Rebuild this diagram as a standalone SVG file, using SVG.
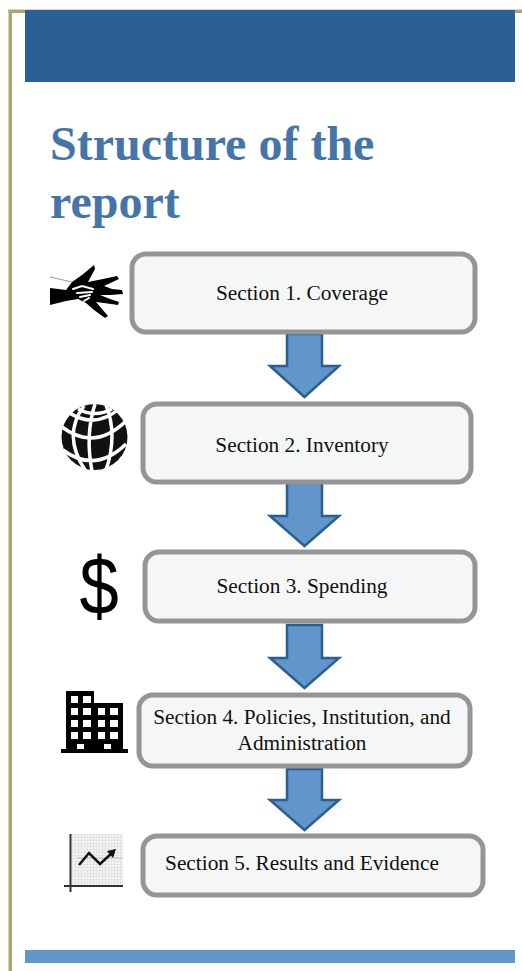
<svg xmlns="http://www.w3.org/2000/svg" width="522" height="971" viewBox="0 0 522 971">
<style>
.box{fill:#f5f7f7;stroke:#959595;stroke-width:5}
.lbl{font:21.3px "Liberation Serif",serif;fill:#111;text-anchor:middle}
.arr{fill:#6195cc;stroke:#2b5f90;stroke-width:2.5}
</style>
<defs>
<pattern id="grid" width="3" height="3" patternUnits="userSpaceOnUse"><rect width="3" height="3" fill="#f3f4f4"/><path d="M0 0H3M0 0V3" stroke="#d5d8d8" stroke-width="1"/></pattern>
</defs>
<rect width="522" height="971" fill="#fff"/>
<rect x="8" y="9" width="514" height="1" fill="#d9d6c8"/>
<rect x="8.500" y="10" width="3.500" height="961" fill="#b0a46e"/>
<rect x="8.500" y="10" width="17" height="3" fill="#b0a46e"/>
<rect x="515" y="10" width="7" height="3" fill="#b0a46e"/>
<rect x="25" y="10" width="490" height="72" fill="#2a6095"/>
<rect x="25" y="950" width="490" height="13" fill="#6195cc"/>
<g id="title" font-family="Liberation Serif,serif" font-weight="bold" font-size="48" fill="#4575a8">
<text x="50" y="160">Structure of the</text>
<text x="50" y="218">report</text>
</g>
<g id="connectors">
<path class="arr" d="M287 334H322V366H339L304.500 397L270 366H287Z"/>
<path class="arr" d="M287 483H322V516H339L304.500 546L270 516H287Z"/>
<path class="arr" d="M287 625H322V658H339L304.500 688L270 658H287Z"/>
<path class="arr" d="M287 769H322V800H339L304.500 830L270 800H287Z"/>
</g>
<g id="node1"><rect class="box" x="132" y="254" width="343" height="78" rx="14"/><text class="lbl" x="302" y="300">Section 1. Coverage</text></g>
<g id="node2"><rect class="box" x="143" y="404" width="328" height="78" rx="14"/><text class="lbl" x="302" y="452">Section 2. Inventory</text></g>
<g id="node3"><rect class="box" x="145" y="552" width="330" height="69" rx="14"/><text class="lbl" x="302" y="593">Section 3. Spending</text></g>
<g id="node4"><rect class="box" x="139" y="695" width="331" height="71" rx="14"/><text class="lbl" x="302" y="724">Section 4. Policies, Institution, and</text><text class="lbl" x="302" y="750">Administration</text></g>
<g id="node5"><rect class="box" x="143" y="836" width="340" height="59" rx="14"/><text class="lbl" x="302" y="870">Section 5. Results and Evidence</text></g>
<g id="icon-hands">
<path d="M50 288L66 290L72 282L82 275L94 265L95 269L88 282L103 279L117 276L119 279L104 286L112 289L122 290L123 294L110 295L100 295L110 299L119 302L118 305L104 303L96 302L102 309L108 316L105 318L94 310L86 303L78 299L66 301L50 305Z" fill="#000"/>
<path d="M50 277L72 282" stroke="#555" stroke-width=".6" fill="none"/>
<path d="M73 289L82 286L93 289M77 293L92 292M80 297L90 295M84 301L89 298" stroke="#fff" stroke-width="2" stroke-linecap="round" fill="none"/>
</g>
<g id="icon-globe">
<circle cx="94.500" cy="437" r="33" fill="#111"/>
<path d="M62 427Q95 452 127 420M68 412Q95 430 120 408M63 450Q95 474 126 444M84 406Q62 435 85 470M95 404Q85 435 92 471M106 405Q118 435 106 470M78 409Q95 418 112 409" fill="none" stroke="#fff" stroke-width="3.500"/>
</g>
<g id="icon-dollar"><text transform="translate(99 614) scale(.98 1.14)" font-family="Liberation Sans,sans-serif" font-size="72" text-anchor="middle" fill="#000">$</text></g>
<g id="icon-building">
<path d="M66 691H94V703H123V749H128V753H61V749H66Z" fill="#000"/>
<path d="M71 696h7v7h-7zM83 696h8v7h-8zM71 708h7v7h-7zM83 708h8v7h-8zM98 708h7v7h-7zM110 708h8v7h-8zM71 720h7v7h-7zM83 720h8v7h-8zM98 720h7v7h-7zM110 720h8v7h-8zM71 732h7v7h-7zM83 732h8v7h-8zM98 732h7v7h-7zM110 732h8v7h-8zM77 744h7v5h-7zM104 744h7v5h-7z" fill="#fff"/>
</g>
<g id="icon-chart">
<rect x="72" y="834" width="51" height="52" fill="url(#grid)"/>
<path d="M77 858H123" stroke="#bbb" stroke-width="1" fill="none"/>
<path d="M70.500 834V892M64 886H123" stroke="#333" stroke-width="2" fill="none"/>
<path d="M79 865L89 853L100 864L112 853" stroke="#111" stroke-width="2.500" fill="none"/>
<path d="M116 849L107 851L113 858Z" fill="#111"/>
</g>
</svg>
